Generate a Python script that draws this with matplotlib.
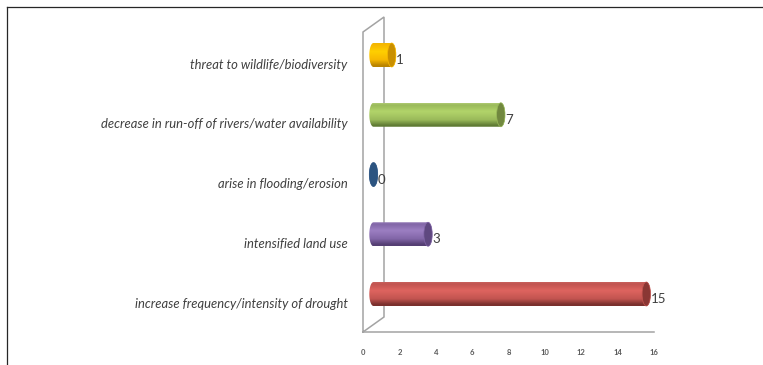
import numpy as np
import matplotlib
matplotlib.use("Agg")
import matplotlib.pyplot as plt
from matplotlib.colors import LinearSegmentedColormap
from matplotlib.patches import Ellipse, PathPatch
from matplotlib.path import Path
from matplotlib.lines import Line2D
from matplotlib.transforms import ScaledTranslation

categories = [
    "increase frequency/intensity of drought",
    "intensified land use",
    "arise in flooding/erosion",
    "decrease in run-off of rivers/water availability",
    "threat to wildlife/biodiversity",
]
values = [15, 3, 0, 7, 1]
x_ticks = [0, 2, 4, 6, 8, 10, 12, 14, 16]

# (edge, highlight, mid, shadow, cap) for each cylinder
palettes = [
    ("#c8605c", "#de645f", "#c25450", "#7a302d", "#8a3734"),
    ("#9479b5", "#9c7fc2", "#8266a8", "#553f73", "#5f4880"),
    ("#3a6596", "#3a6596", "#2f5785", "#21426a", "#2c5480"),
    ("#aec972", "#b2d46a", "#9aba5a", "#5f7a34", "#71883f"),
    ("#f2b600", "#ffcf00", "#f7b800", "#b98400", "#c98f00"),
]

W, H, DPI = 763, 365, 100
fig = plt.figure(figsize=(W / DPI, H / DPI), dpi=DPI, facecolor="white")

# plot area in pixels
x0_px, x1_px = 363, 654
top_px, base_px = 32, 332
ax = fig.add_axes([x0_px / W, 1 - base_px / H, (x1_px - x0_px) / W, (base_px - top_px) / H])
ax.set_facecolor("none")

xmax = x_ticks[-1]
px_per_x = (x1_px - x0_px) / xmax
row0_px, row_px = 294.0, 59.75
y_low = (row0_px - base_px) / row_px
y_high = (row0_px - top_px) / row_px
ax.set_xlim(0, xmax)
ax.set_ylim(y_low, y_high)

# sizes of the pseudo-3D drawing, converted to data units
wall_dx = 21 / px_per_x
wall_dy = 15 / row_px
bar_shift = 10.5 / px_per_x
half_h = 12 / row_px
cap_rx = 4.2 / px_per_x

wall = "#a3a3a3"
ax.add_line(Line2D(
    [0, 0, wall_dx, wall_dx, 0],
    [y_low, y_high, y_high + wall_dy, y_low + wall_dy, y_low],
    color=wall, lw=1.1, clip_on=False, zorder=1, solid_joinstyle="miter",
))

for i, (val, pal) in enumerate(zip(values, palettes)):
    edge, hi, mid, low, cap = pal
    cmap = LinearSegmentedColormap.from_list(
        f"cyl{i}", [(0, edge), (0.08, mid), (0.35, hi), (0.7, mid), (0.94, low), (1, low)]
    )
    cx0, cx1 = bar_shift, bar_shift + val
    # outline: left half of the near end, then right half of the far end
    t_left = np.linspace(np.pi / 2, 3 * np.pi / 2, 40)
    t_right = np.linspace(-np.pi / 2, np.pi / 2, 40)
    left = np.column_stack([cx0 + cap_rx * np.cos(t_left), i + half_h * np.sin(t_left)])
    right = np.column_stack([cx1 + cap_rx * np.cos(t_right), i + half_h * np.sin(t_right)])
    verts = np.vstack([left, right, left[:1]])
    body = PathPatch(Path(verts), transform=ax.transData, facecolor="none", edgecolor="none")
    ax.add_patch(body)
    img = ax.imshow(
        np.linspace(0, 1, 64).reshape(-1, 1),
        cmap=cmap,
        aspect="auto",
        origin="upper",
        extent=(cx0 - cap_rx, cx1 + cap_rx, i - half_h, i + half_h),
        zorder=3,
        interpolation="bilinear",
    )
    img.set_clip_path(body)
    ax.add_patch(
        Ellipse((cx1, i), 2 * cap_rx, 2 * half_h, facecolor=cap, edgecolor=mid, lw=0.5, zorder=4)
    )
    ax.annotate(
        str(val),
        xy=(cx1, i),
        xytext=(3.2, -3.6),
        textcoords="offset points",
        ha="left",
        va="center",
        fontsize=9.5,
        family="Lato",
        color="#404040",
        zorder=5,
    )

ax.set_xlim(0, xmax)
ax.set_ylim(y_low, y_high)

for s in ("top", "left", "right"):
    ax.spines[s].set_visible(False)
ax.spines["bottom"].set_color(wall)
ax.spines["bottom"].set_linewidth(1.1)
ax.spines["bottom"].set_zorder(1)

ax.set_xticks(x_ticks)
ax.tick_params(axis="x", length=0, pad=12, labelsize=5.5, labelcolor="#5a5a5a")
for lab in ax.get_xticklabels():
    lab.set_family("Lato")
    lab.set_fontweight("bold")

ax.set_yticks(range(len(categories)), categories)
ax.tick_params(axis="y", length=0, pad=11.0, labelsize=9.4, labelcolor="#404040")
shift = ScaledTranslation(0, -8.5 / DPI, fig.dpi_scale_trans)
for lab in ax.get_yticklabels():
    lab.set_family("Lato")
    lab.set_fontstyle("italic")
    lab.set_transform(lab.get_transform() + shift)

# thin black frame along the top and left of the page
frame = "#262626"
fig.add_artist(Line2D([7.2 / W, 7.2 / W], [0, 1 - 6.5 / H], color=frame, lw=0.9, transform=fig.transFigure))
fig.add_artist(Line2D([7.2 / W, 1], [1 - 6.5 / H, 1 - 6.5 / H], color=frame, lw=0.9, transform=fig.transFigure))

fig.savefig("out.png", dpi=DPI, facecolor="white")
